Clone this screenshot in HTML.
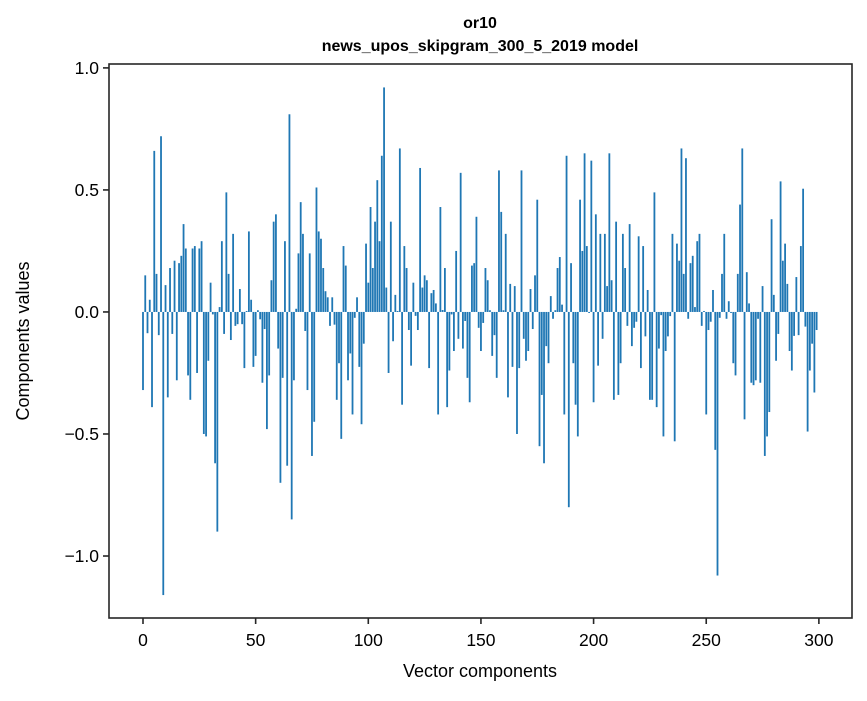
<!DOCTYPE html>
<html><head><meta charset="utf-8"><style>
body{margin:0;background:#fff;}
svg text{font-family:"Liberation Sans","DejaVu Sans",sans-serif;fill:#000;}
</style></head><body>
<svg id="chart" width="867" height="696" xmlns="http://www.w3.org/2000/svg">
<rect width="867" height="696" fill="#fff"/>
<text x="480" y="28" text-anchor="middle" font-size="16" font-weight="bold">or10</text>
<text x="480" y="51" text-anchor="middle" font-size="16" font-weight="bold">news_upos_skipgram_300_5_2019 model</text>
<text x="480" y="677" text-anchor="middle" font-size="18">Vector components</text>
<text transform="translate(29,341) rotate(-90)" text-anchor="middle" font-size="18">Components values</text>
<g id="bars"></g>
<g id="axes"></g>
</svg>
<script>
const values = [-0.32,0.15,-0.087,0.05,-0.39,0.66,0.156,-0.095,0.72,-1.16,
0.11,-0.35,0.18,-0.09,0.21,-0.28,0.2,0.23,0.36,0.26,
-0.26,-0.36,0.26,0.27,-0.25,0.26,0.29,-0.5,-0.51,-0.2,
0.12,-0.01,-0.62,-0.9,0.02,0.29,-0.09,0.49,0.156,-0.115,
0.32,-0.057,-0.05,0.094,-0.05,-0.23,0.004,0.33,0.05,-0.225,
-0.18,0.007,-0.03,-0.29,-0.07,-0.48,-0.26,0.13,0.37,0.40,
-0.15,-0.70,-0.27,0.29,-0.63,0.81,-0.85,-0.28,0.013,0.24,
0.45,0.32,-0.078,-0.32,0.24,-0.59,-0.45,0.51,0.33,0.30,
0.18,0.085,0.06,-0.057,0.06,-0.052,-0.36,-0.21,-0.52,0.27,
0.19,-0.28,-0.17,-0.42,-0.024,0.06,-0.225,-0.46,-0.13,0.28,
0.12,0.43,0.18,0.37,0.54,0.29,0.64,0.92,0.10,-0.25,
0.37,-0.12,0.07,0.004,0.67,-0.38,0.27,0.18,-0.074,-0.22,
0.12,-0.016,-0.074,0.59,0.10,0.15,0.13,-0.23,0.077,0.09,
0.035,-0.42,0.43,0.008,0.18,-0.39,-0.24,-0.01,-0.16,0.25,
-0.11,0.57,-0.15,-0.037,-0.27,-0.37,0.19,0.20,0.39,-0.065,
-0.16,-0.045,0.18,0.13,0.007,-0.18,-0.095,-0.27,0.58,0.41,
0.007,0.32,-0.35,0.115,-0.225,0.106,-0.50,-0.23,0.58,-0.11,
-0.20,-0.16,0.094,-0.07,0.15,0.46,-0.55,-0.34,-0.62,-0.14,
-0.21,0.065,-0.028,0.007,0.18,0.225,0.03,-0.42,0.64,-0.80,
0.20,-0.21,-0.38,-0.51,0.46,0.25,0.65,0.27,-0.004,0.62,
-0.37,0.40,-0.22,0.32,-0.11,0.32,0.106,0.65,0.13,-0.36,
0.37,-0.34,-0.21,0.32,0.18,-0.057,0.36,-0.14,-0.065,-0.04,
0.31,-0.23,0.27,-0.10,0.09,-0.36,-0.36,0.49,-0.39,-0.15,
-0.013,-0.51,-0.16,-0.10,-0.017,0.32,-0.53,0.28,0.21,0.67,
0.156,0.63,-0.028,0.20,0.23,0.02,0.29,0.32,-0.057,0.004,
-0.42,-0.074,-0.04,0.09,-0.565,-1.08,-0.024,0.156,0.32,-0.028,
0.044,-0.004,-0.21,-0.26,0.156,0.44,0.67,-0.44,0.163,0.035,
-0.29,-0.30,-0.28,-0.028,-0.29,0.106,-0.59,-0.51,-0.41,0.38,
0.07,-0.20,-0.09,0.535,0.21,0.28,0.115,-0.16,-0.24,-0.098,
0.143,-0.095,0.27,0.505,-0.06,-0.49,-0.24,-0.13,-0.33,-0.074];
const xTicks = [0,50,100,150,200,250,300];
const yTicks = [-1.0,-0.5,0.0,0.5,1.0];
const yTickLabels = ["\u22121.0","\u22120.5","0.0","0.5","1.0"];

const L=109,R=852,T=64,B=618;
const xMin=-15.09,xMax=314.7,yMin=-1.254,yMax=1.016;
const xs=v=>L+(v-xMin)/(xMax-xMin)*(R-L);
const ys=v=>B-(v-yMin)/(yMax-yMin)*(B-T);
const NS="http://www.w3.org/2000/svg";
const bars=document.getElementById('bars');
values.forEach((v,i)=>{
  const r=document.createElementNS(NS,'rect');
  const x0=xs(i-0.4),x1=xs(i+0.4);
  const y0=ys(Math.max(v,0)),y1=ys(Math.min(v,0));
  r.setAttribute('x',x0);r.setAttribute('width',x1-x0);
  r.setAttribute('y',y0);r.setAttribute('height',Math.max(y1-y0,0.3));
  r.setAttribute('fill','#1f77b4');
  
  
  bars.appendChild(r);
});
const axes=document.getElementById('axes');
const frame=document.createElementNS(NS,'rect');
frame.setAttribute('x',L);frame.setAttribute('y',T);frame.setAttribute('width',R-L);frame.setAttribute('height',B-T);
frame.setAttribute('fill','none');frame.setAttribute('stroke','#262626');frame.setAttribute('stroke-width','1.6');


axes.appendChild(frame);
xTicks.forEach(t=>{
  const x=xs(t);
  const l=document.createElementNS(NS,'line');
  l.setAttribute('x1',x);l.setAttribute('x2',x);l.setAttribute('y1',B);l.setAttribute('y2',B+6);
  l.setAttribute('stroke','#262626');l.setAttribute('stroke-width','1.6');
  
  
  axes.appendChild(l);
  const tx=document.createElementNS(NS,'text');
  tx.setAttribute('x',x);tx.setAttribute('y',B+28);tx.setAttribute('text-anchor','middle');tx.setAttribute('font-size','17.5');
  tx.textContent=String(t);
  
  
  axes.appendChild(tx);
});
yTicks.forEach((t,i)=>{
  const y=ys(t);
  const l=document.createElementNS(NS,'line');
  l.setAttribute('x1',L-6);l.setAttribute('x2',L);l.setAttribute('y1',y);l.setAttribute('y2',y);
  l.setAttribute('stroke','#262626');l.setAttribute('stroke-width','1.6');
  
  
  axes.appendChild(l);
  const tx=document.createElementNS(NS,'text');
  tx.setAttribute('x',L-10);tx.setAttribute('y',y+6);tx.setAttribute('text-anchor','end');tx.setAttribute('font-size','17.5');
  tx.textContent=yTickLabels[i];
  
  
  axes.appendChild(tx);
});
</script>
</body></html>
